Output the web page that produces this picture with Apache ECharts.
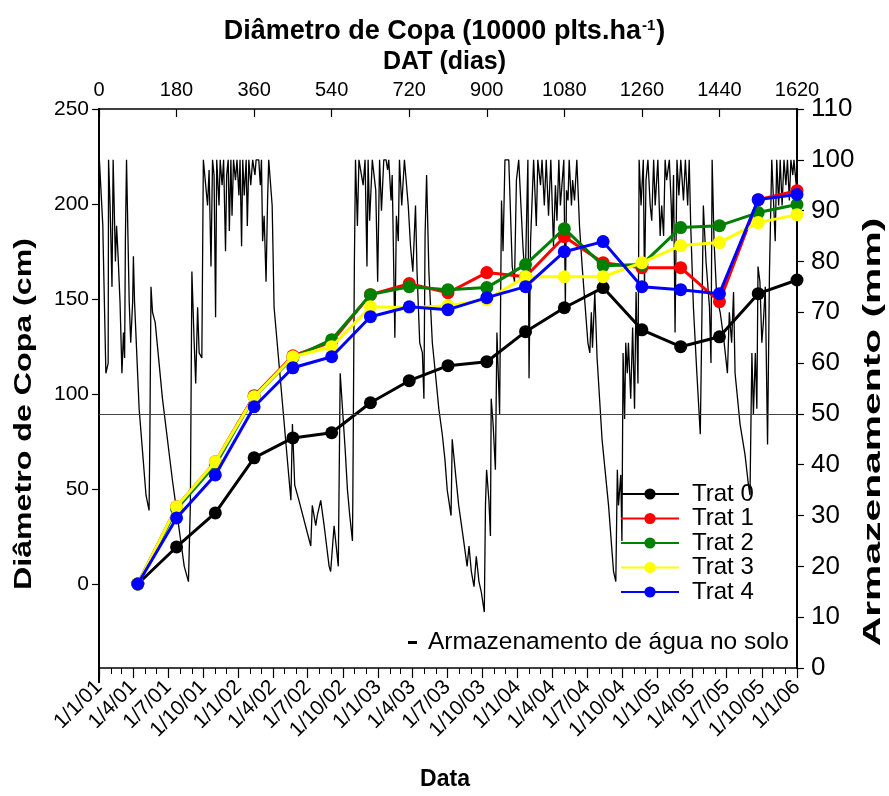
<!DOCTYPE html>
<html>
<head>
<meta charset="utf-8">
<script src="https://cdn.jsdelivr.net/npm/echarts@6/dist/echarts.min.js"></script>
<style>
html, body { margin: 0; padding: 0; background: #fff; }
#chart { width: 889px; height: 796px; }
</style>
</head>
<body>
<div id="chart"></div>
<script>
// Days after transplanting (DAT) of each canopy measurement
const dat = [90, 180, 270, 360, 450, 540, 630, 720, 810, 900, 990, 1080, 1170, 1260, 1350, 1440, 1530, 1620];

// Canopy diameter (cm) per treatment
const trat0 = [0, 19.5, 37.4, 66.4, 76.9, 79.6, 95.4, 107.0, 114.9, 117.0, 132.8, 145.4, 156.0, 133.8, 124.9, 130.1, 152.8, 160.0];
const trat1 = [0, 40.6, 64.3, 99.1, 120.1, 127.5, 152.3, 158.1, 153.3, 163.9, 161.7, 182.8, 169.1, 166.5, 166.5, 148.6, 202.3, 207.0];
const trat2 = [0, 39.5, 62.7, 98.5, 119.1, 128.6, 152.3, 156.5, 154.9, 156.0, 168.1, 187.0, 167.5, 168.1, 187.6, 188.6, 195.5, 199.7];
const trat3 = [0, 40.6, 64.3, 98.5, 119.6, 124.9, 145.9, 145.4, 146.5, 149.6, 161.7, 161.7, 161.7, 169.1, 178.1, 179.7, 190.2, 194.4];
const trat4 = [0, 34.8, 57.4, 93.3, 113.8, 119.6, 140.7, 145.9, 144.4, 150.7, 156.5, 174.9, 180.2, 156.5, 154.9, 152.8, 202.3, 205.0];

// Soil water storage (mm): days since 1/1/01 and stored water
const soilDay = [1, 3, 10, 11, 18, 24, 25, 29, 34, 37, 40, 43, 46, 50, 55, 60, 64, 67, 69, 72, 76, 79, 83, 88, 90, 93, 105, 123, 131, 133, 136, 140, 147, 151, 166, 192, 223, 234, 239, 243, 249, 253, 258, 262, 269, 273, 278, 284, 288, 293, 297, 301,
  305, 308, 314, 317, 322, 326, 331, 334, 338, 341, 345, 348, 352, 357, 361, 366, 369, 373, 376, 380, 385, 388, 392, 397, 402, 408, 411, 418, 422, 425, 428, 432, 437, 441, 444, 449, 453, 458,
  502, 506, 512, 523, 554, 558, 567, 571, 580, 589, 602,
  606, 615, 626, 631, 637, 644, 650, 656, 663, 664, 668, 671, 676, 680, 685, 691, 696, 701, 704, 708, 715, 724, 729, 734, 739, 745, 751, 755, 758, 764, 767, 774, 778, 783, 786, 792, 799, 804, 809, 815, 821, 828, 832, 839, 846, 850, 853, 857, 863, 872, 880, 889, 898, 905,
  911, 921, 924, 933, 941, 954, 963, 968, 974, 981, 985, 987, 994, 1000, 1008, 1011, 1014, 1020, 1024, 1026, 1031, 1037, 1041, 1048, 1053, 1057, 1062, 1072, 1081, 1087, 1092, 1098, 1102, 1109, 1115, 1122, 1125, 1129, 1134, 1137, 1144, 1148, 1155, 1159, 1165, 1170, 1176, 1182, 1189, 1194, 1198, 1203,
  1207, 1212, 1216, 1220, 1223, 1227, 1230, 1236, 1239, 1244, 1250, 1257, 1264, 1272, 1279, 1284, 1288, 1291, 1297, 1303, 1316, 1333, 1346, 1352, 1356, 1359, 1365, 1368, 1371, 1375, 1378, 1382, 1385, 1391, 1396, 1401, 1405, 1410, 1413, 1418, 1424, 1427, 1431, 1436, 1442, 1446, 1451, 1455, 1462, 1468, 1472, 1477, 1481, 1485, 1492, 1497,
  1499, 1503, 1507, 1512, 1517, 1522, 1529, 1534, 1540, 1544, 1548, 1555, 1564, 1573, 1577, 1581, 1588, 1597, 1601, 1604, 1609, 1616, 1625, 1634, 1644, 1649, 1655, 1660, 1664, 1677, 1690, 1699, 1703, 1708, 1712, 1717, 1721, 1724, 1729, 1734, 1738, 1743, 1749, 1754, 1760, 1765, 1769, 1773, 1778, 1782, 1787, 1792, 1797, 1801, 1806, 1810, 1815, 1818, 1824, 1826];
const soilMm = [100, 100, 87, 83, 58, 60, 100, 91, 75, 100, 100, 80, 87, 81, 72, 58, 66, 61, 84, 100, 84, 72, 64, 72, 81, 72, 51, 34, 31, 45, 75, 70, 68, 68, 53, 37, 20, 17, 32, 78, 64, 56, 71, 62, 61, 100, 100, 91, 98, 79, 100, 97,
  69, 100, 91, 100, 95, 100, 82, 97, 100, 86, 100, 89, 100, 96, 100, 93, 100, 83, 100, 93, 100, 87, 100, 95, 100, 97, 100, 100, 95, 100, 84, 89, 76, 92, 100, 100, 91, 71,
  33, 48, 36, 33, 24, 32, 28, 30, 33, 28, 20,
  19, 28, 20, 58, 51, 43, 35, 30, 25, 33, 79, 100, 87, 100, 100, 95, 100, 79, 100, 88, 100, 94, 76, 100, 90, 100, 100, 98, 100, 92, 97, 65, 89, 84, 100, 91, 100, 100, 91, 83, 78, 91, 78, 64, 62, 53, 85, 97, 78, 64, 58, 51, 46, 41,
  35, 30, 45, 38, 32, 25, 20, 24, 19, 16, 20, 22, 17, 15, 11, 32, 39, 33, 26, 53, 48, 39, 66, 50, 92, 82, 100, 100, 79, 76, 96, 100, 100, 83, 76, 100, 57, 84, 84, 100, 87, 100, 95, 100, 91, 100, 89, 100, 83, 95, 88, 100,
  91, 91, 100, 71, 94, 92, 100, 91, 96, 92, 100, 87, 79, 71, 64, 62, 70, 63, 74, 61, 45, 32, 19, 17, 39, 32, 38, 25, 62, 49, 64, 58, 64, 53, 67, 51, 74, 56, 100, 91, 100, 75, 96, 100, 91, 88, 100, 91, 100, 85, 91, 85, 100, 96, 100, 91,
  84, 97, 66, 100, 93, 100, 92, 100, 91, 100, 87, 71, 58, 46, 68, 91, 80, 71, 60, 100, 84, 73, 70, 65, 58, 70, 64, 74, 58, 48, 42, 36, 34, 62, 50, 62, 51, 79, 76, 64, 68, 75, 44, 78, 100, 100, 84, 100, 91, 100, 91, 100, 95, 100, 92, 100, 97, 100, 95, 100];

// Reference level of soil water storage (mm)
const soilRef = 50;

// Tick labels
const datTicks = [0, 180, 360, 540, 720, 900, 1080, 1260, 1440, 1620];
const diamTicks = [0, 50, 100, 150, 200, 250];
const dateTickLabels = ['1/1/01', '1/4/01', '1/7/01', '1/10/01', '1/1/02', '1/4/02', '1/7/02', '1/10/02',
  '1/1/03', '1/4/03', '1/7/03', '1/10/03', '1/1/04', '1/4/04', '1/7/04', '1/10/04',
  '1/1/05', '1/4/05', '1/7/05', '1/10/05', '1/1/06'];

const FONT = '"Liberation Sans", Arial, sans-serif';
const DAY = 86400000;
const origin = Date.UTC(2001, 0, 1);
function labelToDay(s) {
  const p = s.split('/').map(Number);
  return Math.round((Date.UTC(2000 + p[2], p[1] - 1, p[0]) - origin) / DAY);
}
const dateTickDays = dateTickLabels.map(labelToDay);
const dayToLabel = {};
dateTickDays.forEach((d, i) => { dayToLabel[d] = dateTickLabels[i]; });
const lastDay = dateTickDays[dateTickDays.length - 1];
// monthly minor ticks along the date axis
const monthDays = [];
for (let y = 2001; y <= 2006; y++) {
  for (let m = 0; m < 12; m++) {
    const d = Math.round((Date.UTC(y, m, 1) - origin) / DAY);
    if (d <= lastDay) monthDays.push(d);
  }
}

const treatments = [
  { name: 'Trat 0', data: trat0, color: '#000000' },
  { name: 'Trat 1', data: trat1, color: '#ff0000' },
  { name: 'Trat 2', data: trat2, color: '#008000' },
  { name: 'Trat 3', data: trat3, color: '#ffff00' },
  { name: 'Trat 4', data: trat4, color: '#0000ff' }
];
const soilName = 'Armazenamento de água no solo';

const chart = echarts.init(document.getElementById('chart'), null, { renderer: 'canvas' });

const series = [{
  name: soilName,
  type: 'line',
  xAxisIndex: 0,
  yAxisIndex: 1,
  data: soilDay.map((d, i) => [d, soilMm[i]]),
  showSymbol: false,
  symbol: 'none',
  lineStyle: { color: '#000', width: 1.3 },
  itemStyle: { color: '#000' },
  z: 1,
  silent: true,
  markLine: {
    silent: true,
    symbol: 'none',
    label: { show: false },
    lineStyle: { color: '#444', width: 1, type: 'solid' },
    data: [{ yAxis: soilRef }]
  }
}].concat(treatments.map((t, k) => ({
  name: t.name,
  type: 'line',
  xAxisIndex: 2,
  yAxisIndex: 0,
  data: dat.map((d, i) => [d, t.data[i]]),
  symbol: 'circle',
  symbolSize: 13,
  showSymbol: true,
  lineStyle: { color: t.color, width: 3 },
  itemStyle: { color: t.color },
  z: 3 + k
})));

chart.setOption({
  animation: false,
  backgroundColor: '#fff',
  textStyle: { fontFamily: FONT },
  title: [{
    text: '{t|Diâmetro de Copa (10000 plts.ha}{s|-1}{t|)}',
    left: 'center',
    top: 13,
    textStyle: {
      rich: {
        t: { fontFamily: FONT, fontSize: 27, fontWeight: 'bold', color: '#000' },
        s: { fontFamily: FONT, fontSize: 15, fontWeight: 'bold', color: '#000', verticalAlign: 'top', padding: [0, 1, 13, 1] }
      }
    }
  }, {
    text: 'DAT (dias)',
    left: 'center',
    top: 45,
    textStyle: { fontFamily: FONT, fontSize: 25, fontWeight: 'bold', color: '#000' }
  }],
  legend: [{
    data: treatments.map(t => t.name),
    orient: 'vertical',
    left: 620,
    top: 482,
    itemWidth: 58,
    itemHeight: 14,
    itemGap: 0.5,
    padding: 0,
    textStyle: { fontFamily: FONT, fontSize: 24, color: '#000', lineHeight: 24, padding: [0, 0, 0, 8] },
    selectedMode: false
  }, {
    data: [{ name: soilName, icon: 'rect' }],
    left: 408,
    top: 630,
    itemWidth: 9,
    itemHeight: 3,
    padding: 0,
    itemStyle: { color: '#000' },
    textStyle: { fontFamily: FONT, fontSize: 24.5, color: '#000', padding: [0, 0, 0, 6] },
    selectedMode: false
  }],
  grid: { left: 99, right: 92, top: 109, bottom: 128, containLabel: false },
  xAxis: [{
    // calendar date axis (days since 1/1/01)
    type: 'value',
    position: 'bottom',
    min: 0,
    max: lastDay,
    axisLine: { show: true, onZero: false, lineStyle: { color: '#000', width: 1.5 } },
    axisTick: { show: true, inside: false, length: 10, customValues: dateTickDays, lineStyle: { color: '#000', width: 1.2 } },
    axisLabel: {
      show: true,
      customValues: dateTickDays,
      rotate: 45,
      margin: 16,
      fontFamily: FONT,
      fontSize: 21,
      color: '#000',
      formatter: v => dayToLabel[Math.round(v)] || ''
    },
    splitLine: { show: false }
  }, {
    // monthly minor ticks
    type: 'value',
    position: 'bottom',
    min: 0,
    max: lastDay,
    axisLine: { show: false, onZero: false },
    axisTick: { show: true, inside: false, length: 6, customValues: monthDays, lineStyle: { color: '#000', width: 1 } },
    axisLabel: { show: false },
    splitLine: { show: false }
  }, {
    // days after transplanting
    type: 'value',
    position: 'top',
    min: 0,
    max: 1620,
    interval: 180,
    axisLine: { show: true, onZero: false, lineStyle: { color: '#000', width: 1.5 } },
    axisTick: { show: true, inside: true, length: 8, customValues: datTicks, lineStyle: { color: '#000', width: 1.2 } },
    axisLabel: { show: true, customValues: datTicks, margin: 9, fontFamily: FONT, fontSize: 20, color: '#000', formatter: v => String(v) },
    splitLine: { show: false }
  }],
  yAxis: [{
    type: 'value',
    position: 'left',
    min: -44.2,
    max: 250,
    axisLine: { show: true, onZero: false, lineStyle: { color: '#000', width: 2 } },
    axisTick: { show: true, inside: false, length: 7, customValues: diamTicks, lineStyle: { color: '#000', width: 1.2 } },
    axisLabel: { show: true, customValues: diamTicks, margin: 10, fontFamily: FONT, fontSize: 21, color: '#000' },
    splitLine: { show: false }
  }, {
    type: 'value',
    position: 'right',
    min: 0,
    max: 110,
    interval: 10,
    axisLine: { show: true, onZero: false, lineStyle: { color: '#000', width: 2 } },
    axisTick: { show: true, inside: false, length: 7, lineStyle: { color: '#000', width: 1.2 } },
    axisLabel: { show: true, margin: 14, fontFamily: FONT, fontSize: 26, color: '#000' },
    splitLine: { show: false }
  }],
  graphic: [{
    // left axis line continues below the date axis
    type: 'line',
    shape: { x1: 99, y1: 668, x2: 99, y2: 683 },
    style: { stroke: '#000', lineWidth: 2 }
  }, {
    type: 'text',
    x: 24, y: 414,
    rotation: Math.PI / 2,
    scaleX: 1.34,
    style: { text: 'Diâmetro de Copa (cm)', align: 'center', verticalAlign: 'middle', font: 'bold 24px ' + FONT, fill: '#000' }
  }, {
    type: 'text',
    x: 873, y: 432,
    rotation: Math.PI / 2,
    scaleX: 1.7,
    style: { text: 'Armazenamento (mm)', align: 'center', verticalAlign: 'middle', font: 'bold 24px ' + FONT, fill: '#000' }
  }, {
    type: 'text',
    x: 445, y: 780,
    style: { text: 'Data', align: 'center', verticalAlign: 'middle', font: 'bold 23px ' + FONT, fill: '#000' }
  }],
  series: series
});
</script>
</body>
</html>
